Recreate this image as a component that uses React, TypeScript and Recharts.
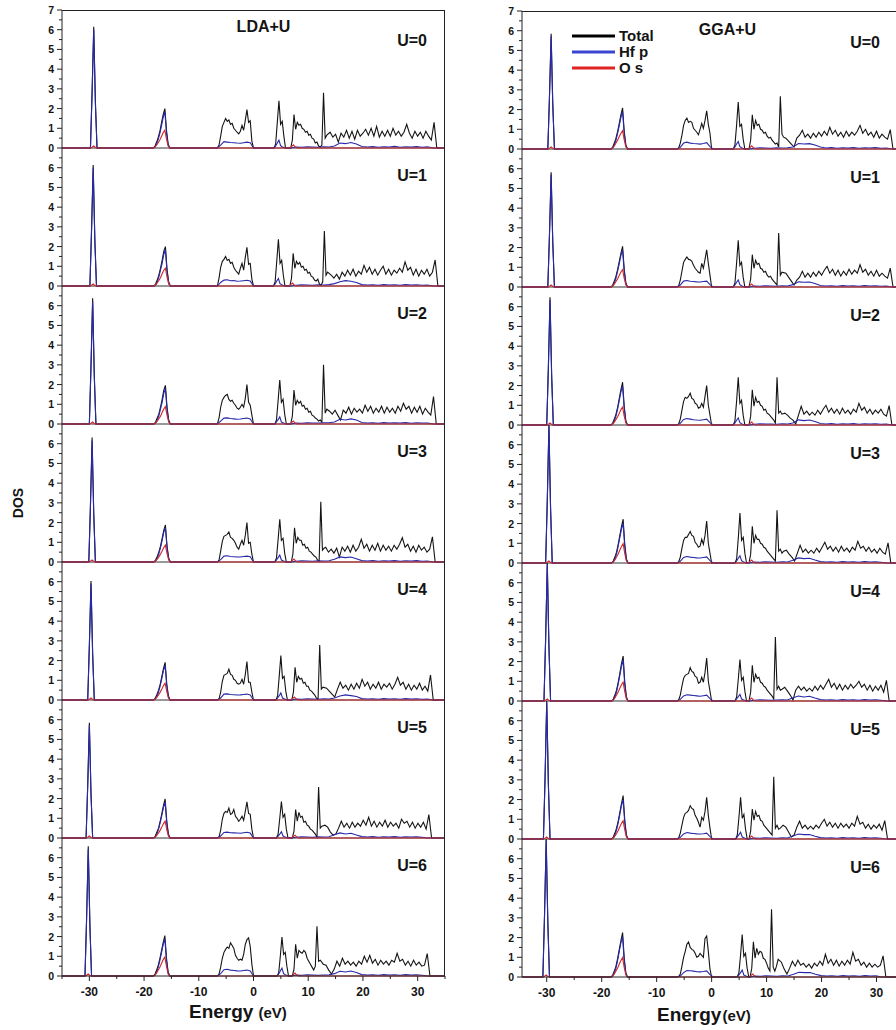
import { LineChart, Line, XAxis, YAxis, ReferenceLine } from "recharts";

// [start energy, step, DOS values]
type Seg = [number, number, number[]];

// ---------- LDA+U ----------
const lda0Total: Seg[] = [
  [-29.8, 0.3, [0, 2.9, 6.15, 2.4, 0]],
  [-18.3, 0.3, [0, 0.1, 0.3, 0.55, 0.85, 1.3, 1.7, 2.0, 0.9, 0.2, 0]],
  [-6.6, 0.3, [0, 0.15, 0.6, 1.1, 1.3, 1.5, 1.35, 1.42, 1.2, 1.25, 1.0, 0.9, 0.8, 0.72, 0.85, 1.15, 0.9, 1.4, 1.95, 1.3, 1.38, 0.35, 0]],
  [3.75, 0.3, [0, 0.2, 1.3, 2.4, 1.2, 1.35, 0.6, 0]],
  [6.8, 0.3, [0, 0.4, 1.7, 0.95, 1.3, 1.15, 1.2, 1.0, 0.95, 0.8, 0.85, 0.65, 0.7, 0.5, 0.45, 0.25, 0.3, 0.1, 0.05, 0.15, 2.8, 0.5, 0.65]],
  [14.0, 0.5, [0.8, 0.55, 0.7, 0.3, 0.75, 0.55, 0.9, 0.5, 0.85, 0.45, 0.9, 0.6, 0.75, 0.95, 0.65, 1.0, 0.6, 1.1, 0.55, 0.85, 0.6, 0.9, 0.6, 1.0, 0.65, 0.85, 0.6, 0.8, 1.2, 0.75, 0.5, 0.85, 0.6, 0.8, 0.5, 0.85, 0.6, 0.4, 1.3, 0]],
];
const lda0Hf: Seg[] = [
  [-29.8, 0.3, [0, 2.75, 6.0, 2.25, 0]],
  [-18.3, 0.3, [0, 0.05, 0.2, 0.45, 0.75, 1.15, 1.55, 1.85, 0.75, 0.15, 0]],
  [-6.6, 0.6, [0, 0.15, 0.32, 0.3, 0.28, 0.27, 0.25, 0.24, 0.27, 0.3, 0.27, 0]],
  [3.75, 0.3, [0, 0.1, 0.25, 0.4, 0.12, 0.06, 0.03, 0]],
  [6.8, 1, [0, 0.05, 0.04, 0.06, 0.05, 0.04, 0.06, 0.05, 0.1, 0.25, 0.22, 0.28, 0.2, 0.08, 0.05, 0.07, 0.04, 0.06, 0.05, 0.08, 0.04, 0.06, 0.05, 0.07, 0.04, 0.06, 0]],
];
const lda0Os: Seg[] = [
  [-29.8, 0.3, [0, 0.04, 0.1, 0.03, 0]],
  [-18.3, 0.3, [0, 0.05, 0.15, 0.28, 0.42, 0.6, 0.78, 0.9, 0.45, 0.1, 0]],
  [6.7, 0.3, [0, 0.08, 0.16, 0.06, 0]],
];

const lda1Total: Seg[] = [
  [-29.9, 0.3, [0, 2.9, 6.14, 2.4, 0]],
  [-18.2, 0.3, [0, 0.1, 0.3, 0.55, 0.9, 1.3, 1.75, 2.0, 0.85, 0.2, 0]],
  [-6.6, 0.3, [0, 0.4, 0.95, 1.25, 1.35, 1.5, 1.3, 1.35, 1.15, 1.2, 0.95, 0.8, 0.7, 0.6, 0.9, 1.15, 0.8, 1.45, 1.96, 1.1, 1.15, 0.35, 0]],
  [3.65, 0.3, [0, 0.2, 1.25, 2.37, 1.15, 1.3, 0.55, 0]],
  [6.65, 0.3, [0, 0.4, 1.66, 0.9, 1.25, 1.1, 1.2, 0.95, 1.0, 0.8, 0.85, 0.65, 0.7, 0.5, 0.45, 0.3, 0.25, 0.35, 0.1, 0.05, 0.2, 2.79, 0.55, 0.7]],
  [14.2, 0.5, [0.55, 0.4, 0.6, 0.35, 0.7, 0.5, 0.8, 0.55, 0.85, 0.5, 0.75, 0.6, 1.05, 0.7, 0.95, 0.6, 0.85, 0.55, 0.8, 1.0, 0.6, 0.85, 0.55, 0.8, 0.65, 0.9, 0.7, 1.22, 0.8, 0.95, 0.55, 0.85, 0.5, 0.8, 0.6, 0.85, 0.5, 0.7, 1.32, 0]],
];
const lda1Hf: Seg[] = [
  [-29.9, 0.3, [0, 2.75, 6.0, 2.3, 0]],
  [-18.2, 0.3, [0, 0.05, 0.2, 0.45, 0.8, 1.15, 1.6, 1.85, 0.7, 0.15, 0]],
  [-6.6, 0.6, [0, 0.18, 0.3, 0.32, 0.27, 0.28, 0.24, 0.25, 0.27, 0.29, 0.25, 0]],
  [3.65, 0.3, [0, 0.1, 0.25, 0.38, 0.12, 0.06, 0.03, 0]],
  [6.8, 1, [0, 0.04, 0.06, 0.05, 0.04, 0.06, 0.05, 0.07, 0.12, 0.22, 0.27, 0.24, 0.18, 0.07, 0.05, 0.06, 0.04, 0.07, 0.05, 0.06, 0.04, 0.07, 0.05, 0.06, 0.04, 0.05, 0]],
];
const lda1Os: Seg[] = [
  [-29.9, 0.3, [0, 0.04, 0.1, 0.03, 0]],
  [-18.2, 0.3, [0, 0.05, 0.15, 0.28, 0.42, 0.62, 0.8, 0.9, 0.45, 0.1, 0]],
  [6.55, 0.3, [0, 0.08, 0.15, 0.05, 0]],
];

const lda2Total: Seg[] = [
  [-30.0, 0.3, [0, 3.0, 6.38, 2.5, 0]],
  [-18.2, 0.3, [0, 0.1, 0.3, 0.5, 0.85, 1.25, 1.7, 1.96, 0.85, 0.2, 0]],
  [-6.6, 0.3, [0, 0.3, 0.85, 1.2, 1.35, 1.45, 1.5, 1.25, 1.15, 1.2, 1.05, 0.95, 0.8, 0.75, 0.85, 1.0, 0.85, 1.3, 2.0, 1.1, 0.95, 0.45, 0]],
  [3.9, 0.3, [0, 0.2, 1.2, 2.23, 1.1, 1.25, 0.5, 0]],
  [6.8, 0.3, [0, 0.4, 1.72, 0.95, 1.2, 1.05, 1.15, 0.9, 0.95, 0.75, 0.8, 0.6, 0.65, 0.45, 0.4, 0.3, 0.25, 0.15, 0.2, 0.1, 3.0, 0.55, 0.75]],
  [13.9, 0.5, [0.65, 0.5, 0.7, 0.45, 0.2, 0.7, 0.55, 0.85, 0.5, 0.8, 0.6, 0.75, 0.55, 0.95, 0.65, 0.9, 0.55, 0.8, 0.6, 0.9, 0.55, 0.85, 0.6, 0.8, 0.55, 0.9, 0.65, 1.05, 0.75, 0.9, 0.55, 0.85, 0.6, 0.9, 0.5, 0.8, 0.6, 0.45, 1.39, 0]],
];
const lda2Hf: Seg[] = [
  [-30.0, 0.3, [0, 2.85, 6.22, 2.4, 0]],
  [-18.2, 0.3, [0, 0.05, 0.2, 0.42, 0.75, 1.1, 1.55, 1.8, 0.7, 0.15, 0]],
  [-6.6, 0.6, [0, 0.15, 0.3, 0.31, 0.28, 0.26, 0.24, 0.25, 0.28, 0.3, 0.26, 0]],
  [3.9, 0.3, [0, 0.1, 0.22, 0.36, 0.1, 0.06, 0.03, 0]],
  [6.8, 1, [0, 0.05, 0.04, 0.06, 0.05, 0.05, 0.06, 0.06, 0.1, 0.24, 0.2, 0.26, 0.2, 0.08, 0.05, 0.06, 0.04, 0.07, 0.05, 0.06, 0.05, 0.07, 0.04, 0.06, 0.05, 0.05, 0]],
];
const lda2Os: Seg[] = [
  [-30.0, 0.3, [0, 0.04, 0.1, 0.03, 0]],
  [-18.2, 0.3, [0, 0.05, 0.14, 0.27, 0.4, 0.58, 0.76, 0.88, 0.44, 0.1, 0]],
  [6.7, 0.3, [0, 0.08, 0.15, 0.05, 0]],
];

const lda3Total: Seg[] = [
  [-30.1, 0.3, [0, 2.9, 6.31, 2.5, 0]],
  [-18.2, 0.3, [0, 0.1, 0.28, 0.5, 0.8, 1.2, 1.6, 1.88, 0.8, 0.2, 0]],
  [-6.6, 0.3, [0, 0.1, 0.55, 1.05, 1.3, 1.35, 1.4, 1.52, 1.25, 1.2, 1.1, 0.95, 0.75, 0.65, 0.9, 1.1, 0.85, 1.35, 2.0, 0.95, 1.0, 0.4, 0]],
  [3.9, 0.3, [0, 0.2, 1.15, 2.17, 1.1, 1.2, 0.45, 0]],
  [6.9, 0.3, [0, 0.4, 1.74, 0.95, 1.25, 1.1, 1.1, 0.85, 0.9, 0.7, 0.75, 0.55, 0.5, 0.4, 0.3, 0.25, 0.1, 0.05, 3.05, 0.6, 0.7]],
  [13.2, 0.5, [0.75, 0.5, 0.65, 0.45, 0.7, 0.25, 0.75, 0.55, 0.8, 0.5, 0.85, 0.55, 0.75, 1.15, 0.7, 0.9, 0.55, 0.85, 0.6, 0.95, 0.55, 0.85, 0.6, 0.8, 0.55, 0.85, 0.65, 0.9, 1.23, 0.75, 0.9, 0.55, 0.8, 0.5, 0.85, 0.6, 0.75, 0.5, 0.65, 1.28, 0]],
];
const lda3Hf: Seg[] = [
  [-30.1, 0.3, [0, 2.8, 6.15, 2.4, 0]],
  [-18.2, 0.3, [0, 0.05, 0.18, 0.42, 0.72, 1.1, 1.5, 1.74, 0.7, 0.15, 0]],
  [-6.6, 0.6, [0, 0.12, 0.3, 0.32, 0.28, 0.27, 0.25, 0.25, 0.28, 0.3, 0.27, 0]],
  [3.9, 0.3, [0, 0.1, 0.22, 0.35, 0.1, 0.06, 0.03, 0]],
  [6.8, 1, [0, 0.04, 0.06, 0.05, 0.04, 0.06, 0.05, 0.06, 0.14, 0.26, 0.22, 0.25, 0.16, 0.07, 0.05, 0.07, 0.04, 0.06, 0.05, 0.07, 0.04, 0.06, 0.05, 0.07, 0.04, 0.05, 0]],
];
const lda3Os: Seg[] = [
  [-30.1, 0.3, [0, 0.04, 0.1, 0.03, 0]],
  [-18.2, 0.3, [0, 0.05, 0.14, 0.26, 0.4, 0.56, 0.73, 0.85, 0.42, 0.1, 0]],
  [6.8, 0.3, [0, 0.08, 0.15, 0.05, 0]],
];

const lda4Total: Seg[] = [
  [-30.3, 0.3, [0, 2.8, 6.04, 2.4, 0]],
  [-18.25, 0.3, [0, 0.1, 0.28, 0.5, 0.8, 1.2, 1.6, 1.91, 0.8, 0.2, 0]],
  [-6.6, 0.3, [0, 0.05, 0.4, 0.95, 1.25, 1.3, 1.35, 1.56, 1.3, 1.25, 1.05, 1.0, 0.85, 0.8, 0.85, 1.05, 0.8, 1.3, 1.95, 0.9, 0.9, 0.4, 0]],
  [4.1, 0.3, [0, 0.2, 1.2, 2.25, 1.1, 1.2, 0.45, 0]],
  [7.0, 0.3, [0, 0.4, 1.66, 0.9, 1.2, 1.05, 1.1, 0.85, 0.9, 0.7, 0.7, 0.5, 0.45, 0.35, 0.25, 0.1, 0.05, 2.79, 0.55, 0.65]],
  [13.35, 0.5, [0.6, 0.45, 0.3, 0.15, 0.55, 0.9, 0.6, 0.75, 0.5, 0.8, 0.55, 0.85, 0.6, 1.05, 0.7, 0.9, 0.55, 0.8, 0.6, 0.9, 0.55, 0.8, 0.65, 0.85, 0.55, 0.8, 1.15, 0.75, 0.9, 0.55, 0.8, 0.5, 0.75, 0.55, 0.85, 0.5, 0.7, 0.45, 1.27, 0]],
];
const lda4Hf: Seg[] = [
  [-30.3, 0.3, [0, 2.7, 5.9, 2.3, 0]],
  [-18.25, 0.3, [0, 0.05, 0.18, 0.42, 0.72, 1.1, 1.5, 1.76, 0.7, 0.15, 0]],
  [-6.6, 0.6, [0, 0.1, 0.3, 0.31, 0.28, 0.27, 0.25, 0.26, 0.28, 0.3, 0.26, 0]],
  [4.1, 0.3, [0, 0.1, 0.22, 0.36, 0.1, 0.06, 0.03, 0]],
  [6.8, 1, [0, 0.05, 0.04, 0.06, 0.05, 0.04, 0.06, 0.05, 0.1, 0.2, 0.26, 0.22, 0.18, 0.07, 0.05, 0.06, 0.04, 0.07, 0.05, 0.06, 0.04, 0.07, 0.05, 0.06, 0.04, 0.05, 0]],
];
const lda4Os: Seg[] = [
  [-30.3, 0.3, [0, 0.04, 0.1, 0.03, 0]],
  [-18.25, 0.3, [0, 0.05, 0.14, 0.26, 0.4, 0.56, 0.73, 0.85, 0.42, 0.1, 0]],
  [6.9, 0.3, [0, 0.08, 0.15, 0.05, 0]],
];

const lda5Total: Seg[] = [
  [-30.6, 0.3, [0, 2.7, 5.84, 2.3, 0]],
  [-18.25, 0.3, [0, 0.1, 0.3, 0.5, 0.85, 1.25, 1.65, 1.98, 0.85, 0.2, 0]],
  [-6.6, 0.3, [0, 0.05, 0.4, 0.95, 1.25, 1.35, 1.3, 1.52, 1.2, 1.25, 1.45, 1.1, 1.0, 0.85, 0.95, 1.1, 0.9, 1.35, 1.83, 1.25, 1.2, 0.45, 0]],
  [4.2, 0.3, [0, 0.2, 1.0, 1.85, 1.05, 1.2, 0.45, 0]],
  [7.1, 0.3, [0, 0.35, 1.44, 0.85, 1.3, 1.05, 1.1, 0.8, 0.85, 0.65, 0.6, 0.45, 0.4, 0.3, 0.2, 0.05, 2.59, 0.5, 0.6]],
  [13.05, 0.5, [0.65, 0.55, 0.3, 0.15, 0.2, 0.5, 0.85, 0.55, 0.75, 0.5, 0.8, 0.55, 0.75, 0.6, 0.9, 0.65, 1.05, 0.6, 0.85, 0.55, 0.8, 0.6, 0.9, 0.55, 0.8, 0.6, 0.75, 0.5, 0.95, 0.75, 0.85, 0.55, 0.8, 0.5, 0.75, 0.55, 0.8, 0.45, 1.19, 0]],
];
const lda5Hf: Seg[] = [
  [-30.6, 0.3, [0, 2.6, 5.72, 2.2, 0]],
  [-18.25, 0.3, [0, 0.05, 0.2, 0.45, 0.78, 1.15, 1.55, 1.82, 0.72, 0.15, 0]],
  [-6.6, 0.6, [0, 0.1, 0.28, 0.3, 0.27, 0.26, 0.25, 0.24, 0.27, 0.29, 0.25, 0]],
  [4.2, 0.3, [0, 0.1, 0.2, 0.32, 0.1, 0.06, 0.03, 0]],
  [6.8, 1, [0, 0.04, 0.06, 0.05, 0.04, 0.06, 0.05, 0.06, 0.16, 0.26, 0.2, 0.24, 0.15, 0.07, 0.05, 0.07, 0.04, 0.06, 0.05, 0.07, 0.04, 0.06, 0.05, 0.06, 0.04, 0]],
];
const lda5Os: Seg[] = [
  [-30.6, 0.3, [0, 0.04, 0.1, 0.03, 0]],
  [-18.25, 0.3, [0, 0.05, 0.14, 0.26, 0.4, 0.56, 0.73, 0.85, 0.42, 0.1, 0]],
  [7.0, 0.3, [0, 0.08, 0.14, 0.05, 0]],
];

const lda6Total: Seg[] = [
  [-30.8, 0.3, [0, 3.0, 6.58, 2.6, 0]],
  [-18.3, 0.3, [0, 0.1, 0.3, 0.55, 0.9, 1.3, 1.7, 2.05, 0.9, 0.2, 0]],
  [-6.6, 0.3, [0, 0.1, 0.45, 0.9, 1.2, 1.35, 1.47, 1.4, 1.68, 1.55, 1.4, 1.05, 0.9, 0.8, 0.85, 0.8, 1.1, 1.6, 1.85, 1.93, 1.5, 0.6, 0]],
  [4.3, 0.3, [0, 0.15, 1.0, 1.98, 1.1, 1.2, 0.5, 0]],
  [7.1, 0.3, [0, 0.35, 1.61, 0.9, 1.3, 1.2, 1.15, 1.3, 1.2, 0.9, 0.75, 0.6, 0.45, 0.3, 0.5, 2.52, 0.75, 0.8]],
  [12.75, 0.5, [0.6, 0.55, 0.3, 0.1, 0.35, 0.75, 0.5, 0.9, 0.6, 0.75, 0.55, 0.7, 0.5, 0.75, 0.6, 1.0, 0.7, 1.05, 0.65, 0.85, 0.55, 0.8, 0.6, 0.75, 0.55, 0.8, 0.7, 1.15, 0.75, 0.85, 0.55, 0.75, 0.5, 0.8, 0.55, 0.7, 0.5, 0.55, 1.14, 0]],
];
const lda6Hf: Seg[] = [
  [-30.8, 0.3, [0, 2.9, 6.45, 2.5, 0]],
  [-18.3, 0.3, [0, 0.05, 0.2, 0.45, 0.8, 1.2, 1.6, 1.88, 0.75, 0.15, 0]],
  [-6.6, 0.6, [0, 0.12, 0.32, 0.34, 0.3, 0.28, 0.26, 0.25, 0.28, 0.3, 0.26, 0]],
  [4.3, 0.3, [0, 0.1, 0.25, 0.4, 0.12, 0.06, 0.03, 0]],
  [6.8, 1, [0, 0.05, 0.04, 0.06, 0.05, 0.04, 0.05, 0.06, 0.12, 0.24, 0.2, 0.25, 0.18, 0.07, 0.05, 0.06, 0.04, 0.07, 0.05, 0.06, 0.04, 0.07, 0.05, 0.06, 0.04, 0]],
];
const lda6Os: Seg[] = [
  [-30.8, 0.3, [0, 0.04, 0.1, 0.03, 0]],
  [-18.3, 0.3, [0, 0.05, 0.15, 0.3, 0.45, 0.65, 0.83, 0.96, 0.48, 0.1, 0]],
  [7.0, 0.3, [0, 0.08, 0.15, 0.05, 0]],
];

// ---------- GGA+U ----------
const gga0Total: Seg[] = [
  [-29.8, 0.3, [0, 2.7, 5.84, 2.3, 0]],
  [-18.3, 0.3, [0, 0.1, 0.3, 0.55, 0.9, 1.3, 1.75, 2.08, 0.9, 0.2, 0]],
  [-6.3, 0.3, [0, 0.05, 0.3, 0.7, 1.2, 1.45, 1.57, 1.35, 1.4, 1.35, 1.05, 0.95, 0.85, 0.72, 1.0, 1.3, 1.05, 1.45, 1.94, 1.25, 0.8, 0]],
  [3.94, 0.3, [0, 0.2, 1.2, 2.38, 1.15, 1.25, 0.5, 0]],
  [6.8, 0.3, [0, 0.45, 1.74, 1.0, 1.45, 1.2, 1.25, 1.0, 0.95, 0.8, 0.85, 0.65, 0.55, 0.6, 0.45, 0.35, 0.25, 0.3, 0.1, 2.67, 0.75, 0.6]],
  [13.5, 0.5, [0.55, 0.4, 0.25, 0.1, 0.55, 0.7, 0.95, 0.6, 0.75, 0.55, 0.8, 0.6, 0.85, 0.65, 0.9, 0.7, 1.1, 0.75, 0.95, 0.65, 0.85, 0.6, 0.9, 0.65, 0.85, 0.7, 0.9, 1.2, 0.8, 1.0, 0.7, 0.85, 0.6, 0.9, 0.55, 0.75, 0.6, 0.5, 0.98, 0]],
];
const gga0Hf: Seg[] = [
  [-29.8, 0.3, [0, 2.6, 5.72, 2.2, 0]],
  [-18.3, 0.3, [0, 0.05, 0.2, 0.45, 0.8, 1.2, 1.6, 1.9, 0.75, 0.15, 0]],
  [-6.3, 0.6, [0, 0.08, 0.3, 0.35, 0.3, 0.28, 0.27, 0.25, 0.28, 0.32, 0.12, 0]],
  [3.94, 0.3, [0, 0.1, 0.25, 0.38, 0.12, 0.06, 0.03, 0]],
  [6.8, 1, [0, 0.04, 0.06, 0.05, 0.04, 0.06, 0.05, 0.06, 0.1, 0.28, 0.25, 0.27, 0.2, 0.1, 0.05, 0.07, 0.04, 0.06, 0.05, 0.07, 0.04, 0.06, 0.05, 0.07, 0.04, 0.05, 0]],
];
const gga0Os: Seg[] = [
  [-29.8, 0.3, [0, 0.04, 0.1, 0.03, 0]],
  [-18.3, 0.3, [0, 0.05, 0.15, 0.3, 0.45, 0.63, 0.8, 0.93, 0.46, 0.1, 0]],
  [6.7, 0.3, [0, 0.08, 0.16, 0.06, 0]],
];

const gga1Total: Seg[] = [
  [-29.8, 0.3, [0, 2.7, 5.82, 2.3, 0]],
  [-18.3, 0.3, [0, 0.1, 0.3, 0.55, 0.9, 1.3, 1.7, 2.06, 0.9, 0.2, 0]],
  [-6.3, 0.3, [0, 0.05, 0.35, 0.8, 1.25, 1.4, 1.52, 1.4, 1.38, 1.3, 1.1, 0.95, 0.85, 0.75, 0.7, 1.2, 0.95, 1.4, 1.89, 1.2, 0.6, 0]],
  [3.94, 0.3, [0, 0.2, 1.2, 2.37, 1.1, 1.25, 0.5, 0]],
  [6.8, 0.3, [0, 0.4, 1.64, 0.95, 1.35, 1.15, 1.2, 0.95, 0.9, 0.75, 0.8, 0.6, 0.5, 0.55, 0.4, 0.3, 0.2, 0.1, 2.74, 0.6, 0.75]],
  [13.5, 0.5, [0.7, 0.5, 0.3, 0.1, 0.35, 0.5, 0.8, 0.5, 0.7, 0.5, 0.75, 0.55, 0.8, 0.6, 0.85, 1.05, 0.7, 0.9, 0.6, 0.85, 0.55, 0.8, 0.6, 0.9, 0.65, 0.85, 0.7, 1.13, 0.75, 0.9, 0.6, 0.8, 0.55, 0.85, 0.55, 0.7, 0.55, 0.45, 0.96, 0]],
];
const gga1Hf: Seg[] = [
  [-29.8, 0.3, [0, 2.6, 5.7, 2.2, 0]],
  [-18.3, 0.3, [0, 0.05, 0.2, 0.45, 0.8, 1.2, 1.6, 1.88, 0.75, 0.15, 0]],
  [-6.3, 0.6, [0, 0.1, 0.3, 0.33, 0.29, 0.28, 0.26, 0.25, 0.28, 0.3, 0.12, 0]],
  [3.94, 0.3, [0, 0.1, 0.24, 0.36, 0.12, 0.06, 0.03, 0]],
  [6.8, 1, [0, 0.05, 0.04, 0.06, 0.05, 0.04, 0.06, 0.05, 0.12, 0.26, 0.24, 0.25, 0.18, 0.08, 0.05, 0.06, 0.04, 0.07, 0.05, 0.06, 0.04, 0.07, 0.05, 0.06, 0.04, 0.05, 0]],
];
const gga1Os: Seg[] = [
  [-29.8, 0.3, [0, 0.04, 0.1, 0.03, 0]],
  [-18.3, 0.3, [0, 0.05, 0.14, 0.28, 0.42, 0.6, 0.76, 0.88, 0.44, 0.1, 0]],
  [6.7, 0.3, [0, 0.08, 0.15, 0.05, 0]],
];

const gga2Total: Seg[] = [
  [-30.0, 0.3, [0, 3.0, 6.48, 2.5, 0]],
  [-18.3, 0.3, [0, 0.1, 0.3, 0.55, 0.9, 1.35, 1.8, 2.17, 0.95, 0.2, 0]],
  [-6.3, 0.3, [0, 0.05, 0.3, 0.75, 1.2, 1.4, 1.35, 1.45, 1.61, 1.35, 1.3, 1.1, 1.05, 0.85, 0.9, 1.1, 0.9, 1.45, 2.0, 1.0, 0.5, 0]],
  [3.94, 0.3, [0, 0.2, 1.2, 2.42, 1.1, 1.25, 0.5, 0]],
  [6.8, 0.3, [0, 0.45, 1.79, 0.95, 1.4, 1.15, 1.2, 1.0, 0.95, 0.75, 0.8, 0.6, 0.55, 0.45, 0.35, 0.25, 0.1, 2.42, 0.6, 0.7, 0.55]],
  [13.3, 0.5, [0.6, 0.5, 0.35, 0.25, 0.05, 0.5, 0.95, 0.55, 0.7, 0.5, 0.65, 0.5, 0.75, 0.55, 0.8, 1.0, 0.65, 0.85, 0.6, 0.8, 0.55, 0.85, 0.6, 0.75, 0.55, 0.8, 0.65, 1.1, 0.75, 0.9, 0.6, 0.8, 0.55, 0.75, 0.6, 0.8, 0.55, 0.45, 0.98, 0]],
];
const gga2Hf: Seg[] = [
  [-30.0, 0.3, [0, 2.85, 6.35, 2.4, 0]],
  [-18.3, 0.3, [0, 0.05, 0.2, 0.45, 0.82, 1.25, 1.68, 1.98, 0.8, 0.15, 0]],
  [-6.3, 0.6, [0, 0.08, 0.28, 0.33, 0.3, 0.27, 0.25, 0.24, 0.27, 0.3, 0.12, 0]],
  [3.94, 0.3, [0, 0.1, 0.24, 0.36, 0.12, 0.06, 0.03, 0]],
  [6.8, 1, [0, 0.04, 0.06, 0.05, 0.05, 0.04, 0.06, 0.05, 0.1, 0.26, 0.22, 0.25, 0.18, 0.08, 0.05, 0.07, 0.04, 0.06, 0.05, 0.07, 0.04, 0.06, 0.05, 0.06, 0.04, 0.05, 0]],
];
const gga2Os: Seg[] = [
  [-30.0, 0.3, [0, 0.04, 0.1, 0.03, 0]],
  [-18.3, 0.3, [0, 0.05, 0.14, 0.28, 0.42, 0.6, 0.78, 0.9, 0.45, 0.1, 0]],
  [6.7, 0.3, [0, 0.08, 0.15, 0.05, 0]],
];

const gga3Total: Seg[] = [
  [-30.2, 0.3, [0, 3.2, 7.0, 2.8, 0]],
  [-18.2, 0.3, [0, 0.1, 0.3, 0.55, 0.95, 1.4, 1.85, 2.22, 0.95, 0.2, 0]],
  [-6.3, 0.3, [0, 0.05, 0.3, 0.75, 1.15, 1.3, 1.3, 1.45, 1.6, 1.4, 1.35, 1.05, 0.95, 0.8, 0.85, 1.2, 0.95, 1.4, 2.13, 1.0, 0.5, 0]],
  [4.25, 0.3, [0, 0.2, 1.25, 2.54, 1.15, 1.3, 0.5, 0]],
  [6.8, 0.3, [0, 0.45, 1.86, 1.0, 1.4, 1.2, 1.2, 1.0, 0.95, 0.8, 0.75, 0.6, 0.5, 0.4, 0.3, 0.2, 0.1, 2.67, 0.6, 0.7, 0.5]],
  [13.1, 0.5, [0.6, 0.65, 0.45, 0.3, 0.1, 0.5, 0.9, 0.55, 0.7, 0.5, 0.65, 0.5, 0.75, 0.55, 0.8, 1.05, 0.7, 0.85, 0.6, 0.8, 0.55, 0.85, 0.6, 0.75, 0.55, 0.8, 0.65, 1.1, 0.75, 0.85, 0.6, 0.8, 0.55, 0.7, 0.5, 0.75, 0.55, 0.45, 1.02, 0]],
];
const gga3Hf: Seg[] = [
  [-30.2, 0.3, [0, 3.1, 6.95, 2.7, 0]],
  [-18.2, 0.3, [0, 0.05, 0.2, 0.45, 0.85, 1.3, 1.72, 2.02, 0.8, 0.15, 0]],
  [-6.3, 0.6, [0, 0.08, 0.28, 0.33, 0.3, 0.28, 0.26, 0.25, 0.28, 0.31, 0.12, 0]],
  [4.25, 0.3, [0, 0.1, 0.24, 0.37, 0.12, 0.06, 0.03, 0]],
  [6.8, 1, [0, 0.05, 0.04, 0.06, 0.05, 0.04, 0.06, 0.05, 0.14, 0.26, 0.22, 0.24, 0.15, 0.07, 0.05, 0.06, 0.04, 0.07, 0.05, 0.06, 0.04, 0.07, 0.05, 0.06, 0.04, 0]],
];
const gga3Os: Seg[] = [
  [-30.2, 0.3, [0, 0.04, 0.1, 0.03, 0]],
  [-18.2, 0.3, [0, 0.05, 0.15, 0.3, 0.46, 0.66, 0.84, 0.98, 0.48, 0.1, 0]],
  [6.7, 0.3, [0, 0.08, 0.15, 0.05, 0]],
];

const gga4Total: Seg[] = [
  [-30.5, 0.3, [0, 3.2, 7.0, 2.8, 0]],
  [-18.2, 0.3, [0, 0.1, 0.3, 0.55, 0.95, 1.4, 1.9, 2.28, 0.95, 0.2, 0]],
  [-6.3, 0.3, [0, 0.05, 0.3, 0.75, 1.15, 1.3, 1.35, 1.4, 1.69, 1.5, 1.45, 1.25, 1.2, 0.9, 0.95, 1.2, 0.95, 1.45, 2.18, 1.0, 0.5, 0]],
  [4.25, 0.3, [0, 0.2, 1.1, 2.1, 1.05, 1.2, 0.5, 0]],
  [6.8, 0.3, [0, 0.45, 1.81, 0.95, 1.35, 1.15, 1.2, 0.95, 0.9, 0.75, 0.7, 0.55, 0.45, 0.35, 0.25, 0.1, 3.25, 0.6, 0.75, 0.55]],
  [12.8, 0.5, [0.6, 0.7, 0.5, 0.3, 0.05, 0.55, 0.75, 0.55, 0.7, 0.5, 0.65, 0.5, 0.75, 0.55, 0.8, 0.6, 0.85, 1.1, 0.7, 0.9, 0.6, 0.85, 0.55, 0.8, 0.6, 0.85, 0.65, 0.8, 1.0, 0.7, 0.85, 0.55, 0.8, 0.5, 0.75, 0.55, 0.8, 0.45, 1.05, 0]],
];
const gga4Hf: Seg[] = [
  [-30.5, 0.3, [0, 3.1, 6.95, 2.7, 0]],
  [-18.2, 0.3, [0, 0.05, 0.2, 0.45, 0.85, 1.3, 1.75, 2.08, 0.8, 0.15, 0]],
  [-6.3, 0.6, [0, 0.08, 0.26, 0.32, 0.3, 0.28, 0.26, 0.24, 0.27, 0.3, 0.12, 0]],
  [4.25, 0.3, [0, 0.1, 0.22, 0.33, 0.1, 0.06, 0.03, 0]],
  [6.8, 1, [0, 0.04, 0.06, 0.05, 0.04, 0.05, 0.06, 0.05, 0.16, 0.25, 0.2, 0.24, 0.15, 0.07, 0.05, 0.06, 0.04, 0.07, 0.05, 0.06, 0.04, 0.07, 0.05, 0.06, 0.04, 0]],
];
const gga4Os: Seg[] = [
  [-30.5, 0.3, [0, 0.04, 0.1, 0.03, 0]],
  [-18.2, 0.3, [0, 0.05, 0.15, 0.3, 0.45, 0.65, 0.82, 0.96, 0.47, 0.1, 0]],
  [6.7, 0.3, [0, 0.08, 0.15, 0.05, 0]],
];

const gga5Total: Seg[] = [
  [-30.6, 0.3, [0, 3.2, 7.0, 2.8, 0]],
  [-18.2, 0.3, [0, 0.1, 0.3, 0.55, 0.9, 1.35, 1.8, 2.2, 0.95, 0.2, 0]],
  [-6.3, 0.3, [0, 0.05, 0.3, 0.7, 1.1, 1.3, 1.35, 1.45, 1.69, 1.55, 1.5, 1.2, 1.05, 0.85, 0.6, 1.1, 0.95, 1.4, 2.11, 1.2, 0.55, 0]],
  [4.37, 0.3, [0, 0.2, 1.1, 2.11, 1.05, 1.25, 0.5, 0]],
  [6.8, 0.3, [0, 0.4, 1.52, 0.95, 1.4, 1.15, 1.2, 0.95, 0.9, 0.7, 0.6, 0.5, 0.4, 0.3, 0.2, 3.16, 0.55, 0.7, 0.5]],
  [12.5, 0.5, [0.55, 0.7, 0.6, 0.35, 0.1, 0.2, 0.6, 0.9, 0.55, 0.7, 0.5, 0.65, 0.5, 0.7, 0.55, 0.8, 1.0, 0.65, 0.85, 0.6, 0.8, 0.55, 0.8, 0.6, 0.75, 0.55, 0.8, 0.65, 1.15, 0.75, 0.85, 0.55, 0.75, 0.5, 0.7, 0.55, 0.75, 0.45, 0.93, 0]],
];
const gga5Hf: Seg[] = [
  [-30.6, 0.3, [0, 3.1, 6.95, 2.7, 0]],
  [-18.2, 0.3, [0, 0.05, 0.2, 0.45, 0.82, 1.25, 1.7, 2.0, 0.8, 0.15, 0]],
  [-6.3, 0.6, [0, 0.08, 0.26, 0.33, 0.3, 0.28, 0.26, 0.25, 0.27, 0.3, 0.12, 0]],
  [4.37, 0.3, [0, 0.1, 0.22, 0.34, 0.1, 0.06, 0.03, 0]],
  [6.8, 1, [0, 0.05, 0.04, 0.06, 0.05, 0.04, 0.06, 0.05, 0.15, 0.25, 0.22, 0.23, 0.14, 0.07, 0.05, 0.06, 0.04, 0.07, 0.05, 0.06, 0.04, 0.07, 0.05, 0.06, 0.04, 0]],
];
const gga5Os: Seg[] = [
  [-30.6, 0.3, [0, 0.04, 0.1, 0.03, 0]],
  [-18.2, 0.3, [0, 0.05, 0.14, 0.28, 0.43, 0.62, 0.8, 0.93, 0.46, 0.1, 0]],
  [6.7, 0.3, [0, 0.08, 0.15, 0.05, 0]],
];

const gga6Total: Seg[] = [
  [-30.7, 0.3, [0, 3.2, 7.0, 2.8, 0]],
  [-18.3, 0.3, [0, 0.1, 0.3, 0.55, 0.95, 1.4, 1.85, 2.25, 0.95, 0.2, 0]],
  [-6.3, 0.3, [0, 0.02, 0.15, 0.55, 1.0, 1.3, 1.66, 1.78, 1.5, 1.4, 1.35, 1.2, 1.0, 1.05, 1.2, 1.1, 1.0, 1.95, 2.08, 1.3, 0.4, 0]],
  [4.66, 0.3, [0, 0.2, 1.1, 2.15, 1.05, 1.2, 0.45, 0]],
  [7.0, 0.3, [0, 0.45, 1.78, 0.95, 1.45, 1.15, 1.3, 1.25, 0.95, 0.9, 0.7, 0.45, 0.3, 3.44, 0.5, 0.3, 0.55, 0.9]],
  [12.7, 0.5, [0.75, 0.4, 0.15, 0.45, 0.8, 0.55, 0.85, 0.6, 0.7, 0.5, 0.65, 0.45, 0.7, 0.55, 0.8, 0.6, 1.15, 0.7, 0.9, 0.6, 0.85, 0.55, 0.8, 0.6, 0.85, 0.65, 1.25, 0.8, 0.9, 0.6, 0.75, 0.5, 0.7, 0.5, 0.65, 0.5, 0.6, 1.07, 0]],
];
const gga6Hf: Seg[] = [
  [-30.7, 0.3, [0, 3.1, 6.95, 2.7, 0]],
  [-18.3, 0.3, [0, 0.05, 0.2, 0.45, 0.85, 1.3, 1.75, 2.05, 0.8, 0.15, 0]],
  [-6.3, 0.6, [0, 0.05, 0.22, 0.33, 0.32, 0.3, 0.27, 0.26, 0.28, 0.31, 0.12, 0]],
  [4.66, 0.3, [0, 0.1, 0.22, 0.35, 0.1, 0.06, 0.03, 0]],
  [6.9, 1, [0, 0.05, 0.04, 0.06, 0.05, 0.04, 0.06, 0.05, 0.14, 0.24, 0.22, 0.23, 0.14, 0.07, 0.05, 0.06, 0.04, 0.07, 0.05, 0.06, 0.04, 0.07, 0.05, 0.06, 0]],
];
const gga6Os: Seg[] = [
  [-30.7, 0.3, [0, 0.04, 0.1, 0.03, 0]],
  [-18.3, 0.3, [0, 0.05, 0.15, 0.3, 0.46, 0.66, 0.84, 0.98, 0.48, 0.1, 0]],
  [6.9, 0.3, [0, 0.08, 0.15, 0.05, 0]],
];

const uLabels = ["U=0", "U=1", "U=2", "U=3", "U=4", "U=5", "U=6"];
const ldaTicks = [-35, -30, -25, -20, -15, -10, -5, 0, 5, 10, 15, 20, 25, 30, 35];
const ggaTicks = [-30, -25, -20, -15, -10, -5, 0, 5, 10, 15, 20, 25, 30, 35];
const dosTicks = [0, 0.5, 1, 1.5, 2, 2.5, 3, 3.5, 4, 4.5, 5, 5.5, 6, 6.5, 7];
const legendNames = ["Total", "Hf p", "O s"];

const ldaPanels = [
  [lda0Total, lda0Hf, lda0Os],
  [lda1Total, lda1Hf, lda1Os],
  [lda2Total, lda2Hf, lda2Os],
  [lda3Total, lda3Hf, lda3Os],
  [lda4Total, lda4Hf, lda4Os],
  [lda5Total, lda5Hf, lda5Os],
  [lda6Total, lda6Hf, lda6Os],
];
const ggaPanels = [
  [gga0Total, gga0Hf, gga0Os],
  [gga1Total, gga1Hf, gga1Os],
  [gga2Total, gga2Hf, gga2Os],
  [gga3Total, gga3Hf, gga3Os],
  [gga4Total, gga4Hf, gga4Os],
  [gga5Total, gga5Hf, gga5Os],
  [gga6Total, gga6Hf, gga6Os],
];

const FONT = '"Liberation Sans", Arial, Helvetica, sans-serif';
const INK = "#141414";
const COLORS = ["#141414", "#2828aa", "#d02828"];
const LEGEND_COLORS = ["#000000", "#3a46cf", "#e02424"];

const PANEL_H = 138;
const PAD = 8;
const AXIS_W = 40;
const X_AXIS_H = 26;

const LDA = { x: 62, top: 10, width: 383, lo: -35, hi: 35, ticks: ldaTicks };
const GGA = { x: 522, top: 11, width: 382, lo: -34.5, hi: 35, ticks: ggaTicks };

function expand(segs: Seg[], lo: number, hi: number) {
  const pts: { e: number; y: number }[] = [{ e: lo, y: 0 }];
  for (const [start, step, vals] of segs) {
    vals.forEach((y, i) => pts.push({ e: Math.round((start + i * step) * 100) / 100, y }));
  }
  pts.push({ e: hi, y: 0 });
  return pts.sort((a, b) => a.e - b.e);
}

function YTick(props: any) {
  const { y, payload } = props;
  const v = payload.value as number;
  const major = Number.isInteger(v);
  return (
    <g>
      <line x1={AXIS_W - (major ? 5 : 3)} x2={AXIS_W} y1={y} y2={y} stroke="#222" strokeWidth={1} />
      {major && (
        <text x={AXIS_W - 8} y={y + 4} textAnchor="end" fontSize={10.5} fontWeight="bold" fill={INK}>
          {v}
        </text>
      )}
    </g>
  );
}

function XTick(props: any) {
  const { x, payload } = props;
  const v = payload.value as number;
  const major = v % 10 === 0;
  const y0 = PAD + PANEL_H;
  return (
    <g>
      <line x1={x} x2={x} y1={y0} y2={y0 + (major ? 5 : 3)} stroke="#222" strokeWidth={1} />
      {major && (
        <text x={x} y={y0 + 20} textAnchor="middle" fontSize={12} fontWeight="bold" fill={INK}>
          {v}
        </text>
      )}
    </g>
  );
}

type Col = typeof LDA;

function DosPanel({ series, col, first, last }: { series: Seg[][]; col: Col; first: boolean; last: boolean }) {
  const height = PAD + PANEL_H + (last ? X_AXIS_H : PAD);
  return (
    <LineChart
      width={AXIS_W + col.width + 2}
      height={height}
      margin={{ top: PAD, right: 2, bottom: last ? 0 : PAD, left: 0 }}
    >
      {last ? (
        <XAxis
          type="number"
          dataKey="e"
          domain={[col.lo, col.hi]}
          ticks={col.ticks}
          interval={0}
          height={X_AXIS_H}
          tickLine={false}
          tick={XTick}
          axisLine={{ stroke: "#222" }}
        />
      ) : (
        <XAxis type="number" dataKey="e" domain={[col.lo, col.hi]} hide />
      )}
      <YAxis
        type="number"
        domain={[0, 7]}
        ticks={first ? dosTicks : dosTicks.slice(0, -1)}
        interval={0}
        width={AXIS_W}
        tickLine={false}
        tick={YTick}
        axisLine={{ stroke: "#222" }}
      />
      {!last && <ReferenceLine y={0} stroke="#333" />}
      {series.map((segs, k) => (
        <Line
          key={k}
          data={expand(segs, col.lo, col.hi)}
          dataKey="y"
          type="linear"
          stroke={COLORS[k]}
          strokeWidth={1.1}
          dot={false}
          activeDot={false}
          isAnimationActive={false}
        />
      ))}
    </LineChart>
  );
}

function Column({ panels, col }: { panels: Seg[][][]; col: Col }) {
  return (
    <>
      {panels.map((series, i) => (
        <div
          key={i}
          style={{ position: "absolute", left: col.x - AXIS_W, top: col.top + i * PANEL_H - PAD }}
        >
          <DosPanel series={series} col={col} first={i === 0} last={i === panels.length - 1} />
        </div>
      ))}
    </>
  );
}

export default function App() {
  const ldaBottom = LDA.top + PANEL_H * 7;
  return (
    <div
      style={{
        position: "absolute",
        left: 0,
        top: 0,
        width: 896,
        height: 1030,
        overflow: "hidden",
        background: "#fff",
        fontFamily: FONT,
      }}
    >
      <Column panels={ldaPanels} col={LDA} />
      <Column panels={ggaPanels} col={GGA} />

      <svg
        width={896}
        height={1030}
        style={{ position: "absolute", left: 0, top: 0, pointerEvents: "none", fontFamily: FONT }}
      >
        {/* frame edges */}
        <line x1={LDA.x} x2={LDA.x + LDA.width} y1={LDA.top + 0.5} y2={LDA.top + 0.5} stroke="#222" />
        <line
          x1={LDA.x + LDA.width - 0.5}
          x2={LDA.x + LDA.width - 0.5}
          y1={LDA.top}
          y2={ldaBottom}
          stroke="#222"
        />
        <line x1={GGA.x} x2={896} y1={GGA.top + 0.5} y2={GGA.top + 0.5} stroke="#222" />

        <text x={263.5} y={32} textAnchor="middle" fontSize={16} fontWeight="bold" fill={INK}>
          LDA+U
        </text>
        <text x={727.5} y={35} textAnchor="middle" fontSize={16} fontWeight="bold" fill={INK}>
          GGA+U
        </text>

        {uLabels.map((u, i) => (
          <text
            key={"l" + u}
            x={427}
            y={LDA.top + i * PANEL_H + (i === 0 ? 36 : 33)}
            textAnchor="end"
            fontSize={16}
            fontWeight="bold"
            fill={INK}
          >
            {u}
          </text>
        ))}
        {uLabels.map((u, i) => (
          <text
            key={"g" + u}
            x={880}
            y={GGA.top + i * PANEL_H + (i === 0 ? 37 : 34)}
            textAnchor="end"
            fontSize={16}
            fontWeight="bold"
            fill={INK}
          >
            {u}
          </text>
        ))}

        {/* legend */}
        {legendNames.map((name, k) => (
          <g key={name}>
            <line x1={572} x2={615} y1={36 + k * 16} y2={36 + k * 16} stroke={LEGEND_COLORS[k]} strokeWidth={3} />
            <text x={619} y={41 + k * 16} fontSize={15} fontWeight="bold" fill={INK}>
              {name}
            </text>
          </g>
        ))}

        <text transform="translate(23,503) rotate(-90)" textAnchor="middle" fontSize={14} fontWeight="bold" fill={INK}>
          DOS
        </text>

        <text x={189} y={1018} fontWeight="bold" fill={INK}>
          <tspan fontSize={19}>Energy</tspan>
          <tspan fontSize={15} dx={5}>
            (eV)
          </tspan>
        </text>
        <text x={657} y={1021} fontWeight="bold" fill={INK}>
          <tspan fontSize={19}>Energy</tspan>
          <tspan fontSize={15} dx={1}>
            (eV)
          </tspan>
        </text>
      </svg>
    </div>
  );
}
